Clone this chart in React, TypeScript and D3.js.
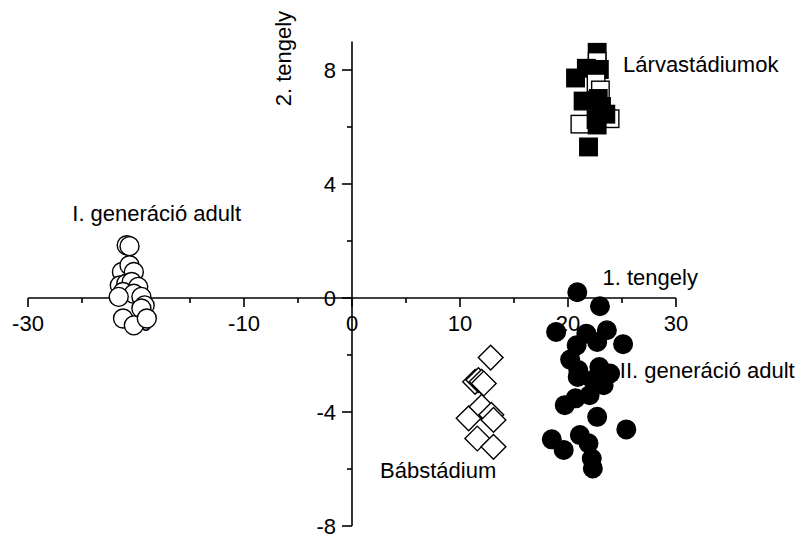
import * as d3 from "d3";
import { useEffect, useRef } from "react";

// [x, y, filled] in draw order (open and filled squares overlap each other)
const larvae: [number, number, number][] = [
  [22.7, 8.62, 1],
  [22.7, 8.3, 0],
  [21.7, 8.06, 1],
  [22.9, 8.02, 1],
  [20.7, 7.72, 1],
  [22.6, 7.55, 0],
  [23.0, 7.3, 0],
  [22.8, 7.0, 1],
  [21.4, 6.91, 1],
  [23.1, 6.72, 1],
  [23.9, 6.29, 0],
  [23.5, 6.45, 1],
  [21.1, 6.1, 0],
  [22.6, 6.26, 1],
  [22.7, 6.07, 1],
  [21.9, 5.3, 1],
];

const firstGen: [number, number][] = [
  [-20.86, 1.85], [-20.6, 1.82], [-21.3, 0.91], [-20.6, 1.15], [-20.2, 0.91],
  [-21.5, 0.44], [-20.9, 0.5], [-20.4, 0.56], [-19.8, 0.39], [-21.2, 0.21],
  [-20.2, 0.15], [-19.5, 0.04], [-21.6, 0.04], [-19.2, -0.26], [-19.5, -0.37],
  [-21.2, -0.72], [-20.2, -0.96], [-19.0, -0.72],
];

const pupae: [number, number][] = [
  [12.84, -2.09], [11.4, -2.94], [11.7, -2.88], [12.0, -2.94], [12.2, -3.0],
  [10.8, -4.22], [12.0, -3.82], [12.9, -4.1], [13.1, -4.28], [11.6, -4.93],
  [13.1, -5.22],
];

const secondGen: [number, number][] = [
  [20.86, 0.2], [22.96, -0.29], [18.9, -1.19], [21.7, -1.25], [23.6, -1.13],
  [22.7, -1.54], [20.8, -1.66], [25.1, -1.62], [20.2, -2.16], [22.9, -2.42],
  [20.95, -2.53], [23.9, -2.65], [20.9, -2.77], [22.3, -2.88], [23.3, -3.06],
  [22.0, -3.41], [20.7, -3.52], [19.7, -3.76], [22.7, -4.17], [25.4, -4.61],
  [18.5, -4.96], [19.6, -5.33], [21.1, -4.81], [21.9, -5.1], [22.2, -5.63],
  [22.3, -5.98],
];

const xTicks = [-30, -20, -10, 0, 10, 20, 30];
const xMinor = [-25, -15, -5, 5, 15, 25];
const yTicks = [-8, -4, 0, 4, 8];
const yMinor = [-6, -2, 2, 6];

const labels: { text: string; x: number; y: number }[] = [
  { text: "Lárvastádiumok", x: 25.1, y: 8.22 },
  { text: "I. generáció adult", x: -25.9, y: 2.97 },
  { text: "1. tengely", x: 23.2, y: 0.72 },
  { text: "II. generáció adult", x: 24.8, y: -2.53 },
  { text: "Bábstádium", x: 2.6, y: -6.03 },
];

const width = 811;
const height = 534;
const font = "'Liberation Sans', Arial, sans-serif";
const fontSize = 22;

export default function App() {
  const svgRef = useRef<SVGSVGElement>(null);

  useEffect(() => {
    if (!svgRef.current) return;
    const svg = d3.select(svgRef.current);
    svg.selectAll("*").remove();

    const x = d3.scaleLinear().domain([-30, 30]).range([28, 676]);
    const y = d3.scaleLinear().domain([-8, 9]).range([526, 41.5]);
    const x0 = x(0);
    const y0 = y(0);

    const axes = svg.append("g").attr("stroke", "#000").attr("stroke-width", 1.6);
    // x axis through origin
    axes.append("line").attr("x1", x(-30)).attr("x2", x(30)).attr("y1", y0).attr("y2", y0);
    axes.selectAll(".xt").data(xTicks).join("line")
      .attr("x1", (d) => x(d)).attr("x2", (d) => x(d))
      .attr("y1", y0).attr("y2", y0 + 9);
    axes.selectAll(".xm").data(xMinor).join("line")
      .attr("x1", (d) => x(d)).attr("x2", (d) => x(d))
      .attr("y1", y0).attr("y2", y0 + 5);
    // y axis through origin
    axes.append("line").attr("x1", x0).attr("x2", x0).attr("y1", y(9)).attr("y2", y(-8));
    axes.selectAll(".yt").data(yTicks).join("line")
      .attr("x1", x0 - 10).attr("x2", x0)
      .attr("y1", (d) => y(d)).attr("y2", (d) => y(d));
    axes.selectAll(".ym").data(yMinor).join("line")
      .attr("x1", x0 - 5).attr("x2", x0)
      .attr("y1", (d) => y(d)).attr("y2", (d) => y(d));

    const tickText = svg.append("g")
      .attr("font-family", font).attr("font-size", fontSize).attr("fill", "#000");
    tickText.selectAll("text.xl").data(xTicks).join("text")
      .attr("x", (d) => x(d)).attr("y", y0 + 33)
      .attr("text-anchor", "middle")
      .text((d) => String(d));
    tickText.selectAll("text.yl").data(yTicks).join("text")
      .attr("x", x0 - 16).attr("y", (d) => y(d) + 8)
      .attr("text-anchor", "end")
      .text((d) => String(d));

    svg.append("text")
      .attr("transform", `translate(${x(-6.4) + 8},${y(8.4)}) rotate(-90)`)
      .attr("text-anchor", "middle")
      .attr("font-family", font).attr("font-size", fontSize)
      .text("2. tengely");

    const side = 17.5;
    const marks = svg.append("g").attr("stroke", "#000").attr("stroke-width", 1.4);

    marks.selectAll("circle.g1").data(firstGen).join("circle")
      .attr("cx", (d) => x(d[0])).attr("cy", (d) => y(d[1]))
      .attr("r", 9.5).attr("fill", "#fff");

    const diamond = d3.symbol().type(d3.symbolSquare).size(side * side)();
    marks.selectAll("path.pupa").data(pupae).join("path")
      .attr("d", diamond)
      .attr("transform", (d) => `translate(${x(d[0])},${y(d[1])}) rotate(45)`)
      .attr("fill", "#fff");

    marks.selectAll("circle.g2").data(secondGen).join("circle")
      .attr("cx", (d) => x(d[0])).attr("cy", (d) => y(d[1]))
      .attr("r", 9.3).attr("fill", "#000");

    marks.selectAll("rect.larva").data(larvae).join("rect")
      .attr("x", (d) => x(d[0]) - side / 2).attr("y", (d) => y(d[1]) - side / 2)
      .attr("width", side).attr("height", side)
      .attr("fill", (d) => (d[2] ? "#000" : "#fff"));

    svg.append("g")
      .attr("font-family", font).attr("font-size", fontSize).attr("fill", "#000")
      .selectAll("text").data(labels).join("text")
      .attr("x", (d) => x(d.x)).attr("y", (d) => y(d.y) + 8)
      .text((d) => d.text);
  }, []);

  return (
    <svg
      ref={svgRef}
      width={width}
      height={height}
      style={{ position: "absolute", left: 0, top: 0, background: "#fff" }}
    />
  );
}
